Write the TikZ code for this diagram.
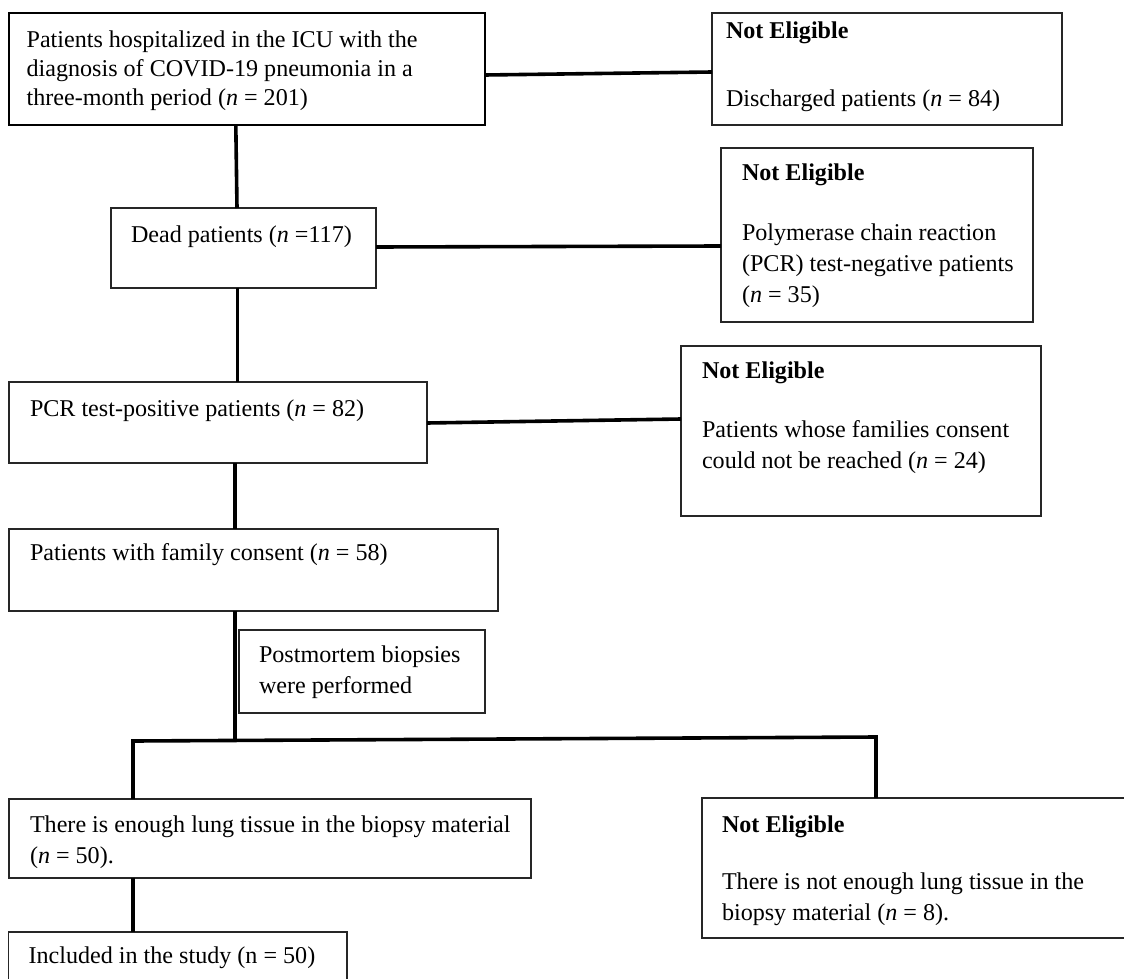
\documentclass[tikz,border=0pt]{standalone}
\usepackage{fontspec}
\setmainfont{Liberation Serif}
\usetikzlibrary{calc}
\newcommand\bxc[5]{\parbox[c][#2pt][t]{#1pt}{\fontsize{24.1}{31}\selectfont\raggedright\setlength\leftskip{#3pt}\rule{0pt}{#4pt}#5}}
\begin{document}
\begin{tikzpicture}[x=1pt,y=-1pt,
  box/.style={draw=black!85, line width=1.2pt, inner sep=0pt, outer sep=0pt, anchor=north west},
  link/.style={line width=3.6pt, line join=miter}]
\useasboundingbox (0,0) rectangle (1124,979);
\clip (0,0) rectangle (1124,979);

\node[box, draw=black, line width=2pt] (b1) at (8.6,13) {\bxc{476.4}{112}{18}{35}{\baselineskip=29pt Patients hospitalized in the ICU with the\\diagnosis of COVID-19 pneumonia in a\\three-month period (\textit{n} = 201)}};
\node[box] (n1) at (712,13) {\bxc{350}{112}{14}{26}{\textbf{Not Eligible}\\[37pt]Discharged patients (\textit{n} = 84)}};
\node[box] (b2) at (111,208) {\bxc{265}{80}{20}{34}{Dead patients (\textit{n} =117)}};
\node[box] (n2) at (721,148) {\bxc{312}{174}{21}{32}{\textbf{Not Eligible}\\[29pt]Polymerase chain reaction\\(PCR) test-negative patients\\(\textit{n} = 35)}};
\node[box] (b3) at (9,382) {\bxc{418}{81}{21}{34}{PCR test-positive patients (\textit{n} = 82)}};
\node[box] (n3) at (681,346) {\bxc{360}{170}{21}{32}{\textbf{Not Eligible}\\[28pt]Patients whose families consent\\could not be reached (\textit{n} = 24)}};
\node[box] (b4) at (9,529) {\bxc{489}{82}{21}{31}{Patients with family consent (\textit{n} = 58)}};
\node[box] (pm) at (239,630) {\bxc{246}{83}{20}{32}{Postmortem biopsies\\were performed}};
\node[box] (b5) at (9,799) {\bxc{522}{79}{21}{33}{There is enough lung tissue in the biopsy material\\(\textit{n} = 50).}};
\node[box] (b6) at (8.6,932) {\bxc{338.4}{60}{20}{31}{Included in the study (n = 50)}};
\node[box] (n4) at (702,798) {\bxc{440}{140}{20}{34}{\textbf{Not Eligible}\\[26pt]There is not enough lung tissue in the\\biopsy material (\textit{n} = 8).}};

\coordinate (j) at (235,741);
\coordinate (jl) at (133,741);
\coordinate (jr) at (876,737);

\draw[link] ($(b1.east)+(0,6)$) -- ($(n1.west)+(0,3)$);
\draw[link] ($(b1.south)+(-11,0)$) -- ($(b2.north)+(-6.5,0)$);
\draw[link] ($(b2.east)+(0,-1)$) -- ($(n2.west)+(0,11)$);
\draw[link] ($(b2.south)+(-6,0)$) -- ($(b3.north)+(19.5,0)$);
\draw[link] ($(b3.east)+(0,0.5)$) -- ($(n3.west)+(0,-12)$);
\draw[link] ($(b3.south)+(17,0)$) -- ($(b4.north)+(-18.5,0)$);
\draw[link] ($(b4.south)+(-18.5,0)$) -- (j);
\draw[link] ($(b5.north west)+(124,0)$) -- (jl) -- (jr) -- ($(n4.north west)+(174,0)$);
\draw[link] ($(b5.south west)+(124,0)$) -- ($(b6.north west)+(124.4,0)$);
\end{tikzpicture}
\end{document}
